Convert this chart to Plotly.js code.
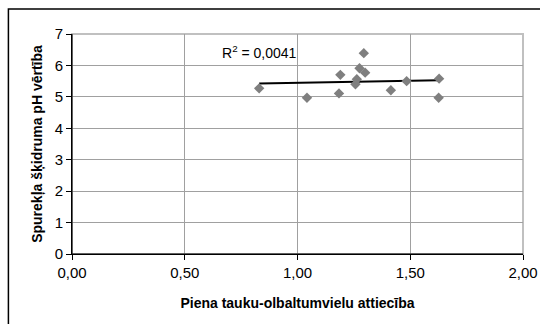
<!DOCTYPE html>
<html>
<head>
<meta charset="utf-8">
<script src="https://cdn.plot.ly/plotly-3.0.1.min.js"></script>
<style>html,body{margin:0;padding:0;background:#fff;}#chart{width:540px;height:324px;}</style>
</head>
<body>
<div id="chart"></div>
<script>
// Data
const ratio = [0.830, 1.042, 1.184, 1.190, 1.257, 1.263, 1.275, 1.300, 1.294, 1.414, 1.484, 1.628, 1.626];
const ph    = [5.27, 4.97, 5.11, 5.70, 5.40, 5.56, 5.91, 5.77, 6.39, 5.21, 5.50, 5.58, 4.97];
const xTicks = [0, 0.5, 1, 1.5, 2];
const yTicks = [0, 1, 2, 3, 4, 5, 6, 7];
const r2Label = "R<sup>2</sup> = 0,0041";
const xTitle = "Piena tauku-olbaltumvielu attiecība";
const yTitle = "Spurekļa šķidruma pH vērtība";

// Linear trendline (least squares) over the data range
const n = ratio.length;
const mx = ratio.reduce((a,b)=>a+b,0)/n;
const my = ph.reduce((a,b)=>a+b,0)/n;
let sxy = 0, sxx = 0;
for (let i=0;i<n;i++){ sxy += (ratio[i]-mx)*(ph[i]-my); sxx += (ratio[i]-mx)*(ratio[i]-mx); }
const slope = sxy/sxx, icpt = my - slope*mx;
const xmin = Math.min(...ratio), xmax = Math.max(...ratio);
const trendX = [xmin, xmax];
const trendY = trendX.map(v => icpt + slope*v);

const font = "Liberation Sans, Arial, sans-serif";
const data = [
  {x: trendX, y: trendY, mode: 'lines', line: {color: '#000', width: 2}, hoverinfo: 'skip'},
  {x: ratio, y: ph, mode: 'markers', marker: {symbol: 'diamond', size: 8, color: '#7f7f7f'}}
];
const layout = {
  width: 540, height: 324,
  margin: {l: 72, r: 17, t: 34, b: 70},
  paper_bgcolor: '#fff', plot_bgcolor: '#fff',
  showlegend: false,
  separators: ',.',
  font: {family: font, size: 15, color: '#000'},
  xaxis: {
    range: [0, 2], tickvals: xTicks, tickformat: '.2f',
    showgrid: true, gridcolor: '#a0a0a0', gridwidth: 1,
    zeroline: false, showline: true, linecolor: '#000', linewidth: 1,
    ticks: 'outside', ticklen: 5, tickcolor: '#000',
    tickfont: {family: font, size: 15},
    title: {text: xTitle, font: {family: font, size: 14, weight: 'bold'}, standoff: 18}
  },
  yaxis: {
    range: [0, 7], tickvals: yTicks,
    showgrid: true, gridcolor: '#a0a0a0', gridwidth: 1,
    zeroline: false, showline: true, linecolor: '#000', linewidth: 1,
    ticks: 'outside', ticklen: 5, tickcolor: '#000',
    tickfont: {family: font, size: 15},
    title: {text: yTitle, font: {family: font, size: 14, weight: 'bold'}, standoff: 8}
  },
  shapes: [
    {type: 'rect', xref: 'paper', yref: 'paper', x0: 0, x1: 1, y0: 0, y1: 1,
     line: {color: '#c0c0c0', width: 2}, layer: 'below'},
    {type: 'line', xref: 'paper', yref: 'paper', x0: 0, x1: 0, y0: 0, y1: 1,
     line: {color: '#000', width: 1}},
    {type: 'line', xref: 'paper', yref: 'paper', x0: 0, x1: 1, y0: 0, y1: 0,
     line: {color: '#000', width: 1}},
    {type: 'rect', xref: 'paper', yref: 'paper', x0: -0.141, x1: 1.3, y0: -0.6, y1: 1.1136,
     line: {color: '#000', width: 1.5}}
  ],
  annotations: [
    {x: 0.83, y: 6.43, xref: 'x', yref: 'y', text: r2Label, showarrow: false,
     font: {family: font, size: 14, color: '#000'}}
  ]
};
Plotly.newPlot('chart', data, layout, {displayModeBar: false, staticPlot: true});
</script>
</body>
</html>
